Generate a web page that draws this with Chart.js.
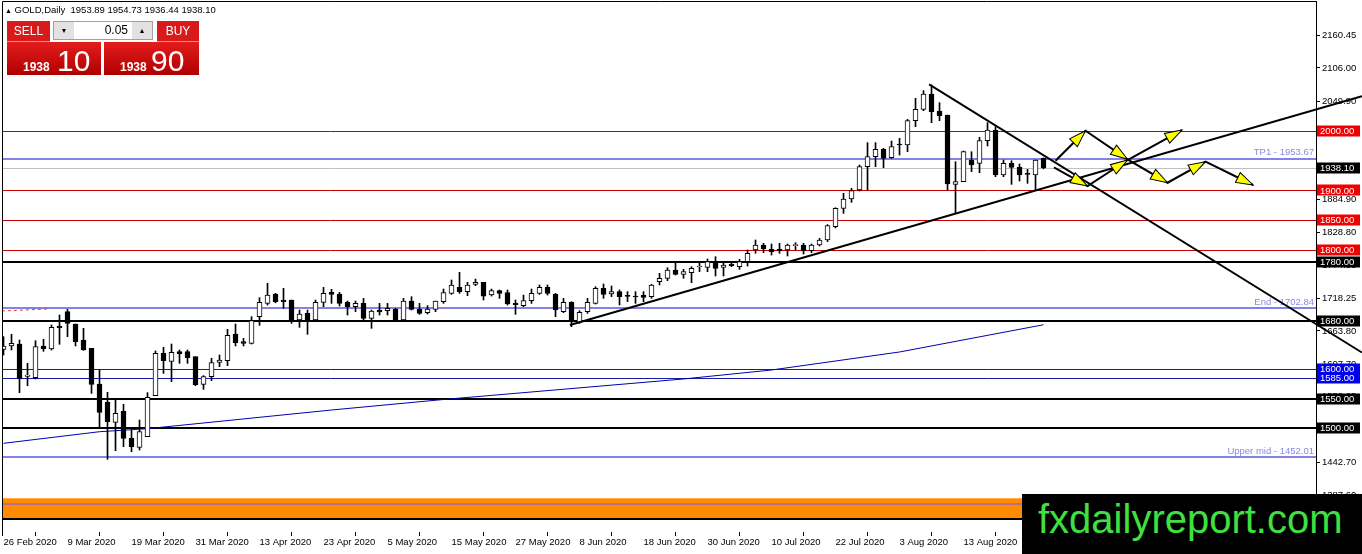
<!DOCTYPE html>
<html>
<head>
<meta charset="utf-8">
<script src="https://cdn.jsdelivr.net/npm/chart.js@4.4.1/dist/chart.umd.min.js"></script>
<style>
  html, body { margin: 0; padding: 0; background: #fff; }
  #wrap { position: relative; width: 1362px; height: 554px; overflow: hidden; font-family: "Liberation Sans", Arial, sans-serif; }
  #chart { position: absolute; left: 0; top: 0; }
  #title { position: absolute; left: 5px; top: 4px; font-size: 9.5px; line-height: 12px; color: #000; white-space: pre; }
  #title .tri { font-size: 7px; }
  .btn { position: absolute; top: 21px; height: 20px; background: #d91a1a; color: #fff; font-size: 12px; line-height: 20px; text-align: center; border-bottom: 1px solid #f08c8c; }
  #sell { left: 7px; width: 43px; }
  #buy { left: 157px; width: 42px; }
  #lot { position: absolute; left: 53px; top: 21px; width: 100px; height: 19px; border: 1px solid #a0a0a0; background: #fff; display: flex; box-sizing: border-box; }
  #lot .spin { width: 20px; background: #e2e2e2; font-size: 7px; text-align: center; line-height: 17px; color: #000; }
  #lot .val { flex: 1; text-align: right; padding-right: 4px; font-size: 12px; line-height: 17px; color: #000; }
  .px { position: absolute; top: 42px; height: 33px; background: linear-gradient(#e41c1c, #b00000); color: #fff; }
  #pxSell { left: 7px; width: 94px; }
  #pxBuy { left: 104px; width: 95px; }
  .px .sm { position: absolute; bottom: 2px; font-size: 12px; line-height: 12px; font-weight: bold; }
  .px .lg { position: absolute; bottom: -1px; font-size: 30px; line-height: 30px; }
  #wm { position: absolute; left: 1022px; top: 494px; width: 340px; height: 60px; background: #000; color: #3fe03f; font-size: 40px; line-height: 50px; padding-left: 16px; box-sizing: border-box; }
</style>
</head>
<body>
<div id="wrap">
  <canvas id="chart" width="1362" height="554"></canvas>
  <div id="title"></div>
  <div class="btn" id="sell">SELL</div>
  <div id="lot"><div class="spin">&#9660;</div><div class="val">0.05</div><div class="spin">&#9650;</div></div>
  <div class="btn" id="buy">BUY</div>
  <div class="px" id="pxSell"><span class="sm" style="left:16px">1938</span><span class="lg" style="left:50px">10</span></div>
  <div class="px" id="pxBuy"><span class="sm" style="left:16px">1938</span><span class="lg" style="left:47px">90</span></div>
  <div id="wm">fxdailyreport.com</div>
</div>
<script>
// daily candles, bar 0 = 26 Feb 2020
const opens = [1632.8,1638.4,1641.7,1587.4,1585.1,1638.4,1633.3,1672.0,1696.1,1675.4,
  1648.5,1634.4,1574.4,1544.2,1510.0,1528.4,1483.0,1467.9,1485.8,1554.8,
  1626.0,1612.6,1628.8,1628.8,1620.4,1573.9,1586.8,1610.9,1613.7,1658.5,
  1645.7,1642.8,1687.7,1710.1,1725.8,1715.7,1715.7,1682.1,1693.3,1682.1,
  1711.8,1728.6,1725.8,1711.8,1704.5,1710.1,1684.9,1698.9,1697.8,1700.6,
  1682.1,1714.0,1700.0,1694.4,1700.0,1712.9,1726.9,1737.0,1729.7,1742.1,
  1745.4,1724.1,1731.4,1728.1,1710.1,1706.2,1714.6,1726.9,1737.0,1725.2,
  1696.1,1711.8,1678.1,1696.1,1710.1,1735.4,1725.8,1729.8,1723.0,1721.9,
  1724.2,1721.4,1746.6,1752.2,1766.2,1758.9,1761.7,1771.2,1770.7,1779.1,
  1770.7,1775.7,1771.8,1780.2,1799.9,1808.3,1801.0,1801.0,1799.9,1807.2,
  1808.3,1798.7,1808.3,1816.7,1839.1,1869.9,1885.6,1900.8,1940.0,1956.8,
  1969.2,1955.1,1978.1,1976.5,2017.4,2036.5,2062.3,2033.7,2026.9,1910.3,
  1914.8,1951.2,1945.6,1983.8,2001.7,1926.0,1945.6,1938.9,1927.5,1926.0,
  1953.89];
const highs = [1654.1,1658.0,1648.5,1609.2,1647.3,1649.6,1673.7,1690.5,1700.0,1675.4,
  1668.1,1634.4,1598.0,1560.4,1550.3,1540.2,1497.1,1513.9,1559.9,1630.0,
  1636.1,1641.7,1631.6,1631.6,1620.4,1588.5,1617.6,1623.2,1666.4,1675.4,
  1651.3,1687.7,1719.7,1743.8,1727.0,1735.4,1715.7,1698.9,1698.9,1715.7,
  1737.0,1733.7,1728.6,1714.0,1714.0,1718.5,1698.9,1710.1,1710.1,1701.7,
  1718.5,1721.3,1710.1,1706.2,1714.0,1734.2,1749.4,1762.3,1745.4,1751.0,
  1745.4,1734.2,1732.5,1732.5,1715.7,1724.1,1734.2,1741.0,1741.0,1726.9,
  1718.5,1712.9,1697.8,1718.5,1738.1,1742.7,1739.3,1732.6,1729.8,1729.8,
  1729.8,1742.1,1760.6,1770.1,1778.6,1767.3,1771.8,1777.4,1784.7,1788.6,
  1778.6,1777.4,1784.2,1799.9,1816.7,1811.1,1810.0,1811.1,1810.0,1812.2,
  1811.1,1810.0,1819.5,1842.5,1871.0,1895.2,1903.6,1942.8,1980.4,1980.4,
  1970.9,1983.2,1987.7,2019.6,2055.0,2067.9,2077.4,2047.7,2026.9,1948.4,
  1966.4,1965.2,1989.4,2014.0,2007.3,1951.2,1950.1,1944.5,1935.5,1951.2,
  1954.73];
const lows = [1623.2,1631.6,1559.9,1571.6,1582.9,1629.4,1631.6,1641.2,1654.1,1638.4,
  1631.1,1558.7,1499.9,1447.7,1462.3,1469.0,1460.6,1463.4,1485.8,1554.8,
  1592.4,1578.4,1609.2,1609.2,1571.6,1565.5,1580.0,1603.6,1605.3,1638.4,
  1638.4,1641.7,1673.1,1707.3,1711.0,1701.7,1676.5,1669.8,1658.0,1681.0,
  1704.5,1710.1,1705.6,1690.5,1696.1,1679.3,1668.1,1690.5,1690.5,1679.3,
  1680.4,1698.9,1691.6,1692.2,1696.1,1710.1,1725.2,1726.9,1723.0,1739.8,
  1715.7,1722.4,1718.5,1707.3,1691.6,1704.5,1710.1,1725.2,1724.1,1687.7,
  1694.4,1670.9,1676.5,1693.3,1709.0,1718.6,1721.4,1707.3,1713.0,1710.1,
  1713.0,1718.6,1741.0,1748.3,1757.8,1752.2,1744.9,1763.4,1763.4,1756.1,
  1756.1,1771.8,1767.3,1772.9,1794.3,1795.4,1791.4,1794.3,1789.8,1799.9,
  1793.1,1795.4,1806.6,1814.0,1837.0,1861.5,1880.0,1899.1,1900.8,1940.0,
  1938.3,1954.0,1959.6,1965.2,2007.3,2034.2,2014.0,2017.4,1900.8,1862.6,
  1914.8,1931.6,1929.9,1974.8,1923.2,1923.2,1910.3,1915.9,1912.0,1900.8,
  1936.44];
const closes = [1638.4,1642.8,1582.9,1589.6,1637.2,1633.9,1669.8,1669.2,1676.5,1645.7,
  1631.6,1573.9,1526.8,1511.1,1525.1,1483.0,1469.0,1494.3,1552.0,1626.0,
  1613.7,1627.7,1625.5,1618.7,1573.3,1586.8,1610.3,1614.8,1656.3,1644.0,
  1642.8,1681.0,1711.8,1724.2,1712.9,1712.9,1679.3,1692.2,1682.1,1711.8,
  1726.9,1725.2,1710.1,1704.5,1710.1,1684.9,1697.2,1695.5,1701.7,1682.1,
  1714.0,1700.0,1693.3,1700.6,1714.0,1728.1,1741.0,1729.7,1741.0,1745.4,
  1722.4,1731.4,1726.9,1709.0,1707.9,1714.6,1726.9,1737.0,1726.9,1698.9,
  1711.8,1679.3,1695.0,1711.8,1735.3,1725.3,1729.8,1721.4,1721.9,1720.8,
  1720.2,1741.0,1752.2,1766.2,1758.9,1763.4,1769.0,1772.4,1780.2,1769.0,
  1774.6,1773.5,1780.2,1794.3,1808.3,1801.5,1797.1,1798.7,1808.3,1808.0,
  1798.7,1808.3,1816.7,1840.8,1869.9,1885.6,1899.6,1940.0,1956.8,1969.2,
  1954.0,1973.7,1976.5,2017.4,2036.5,2062.3,2032.5,2025.8,1910.9,1914.8,
  1965.2,1942.8,1983.8,2001.7,1926.0,1945.6,1938.9,1926.0,1927.1,1951.2,
  1938.10];

const dateBars = [0, 8, 16, 24, 32, 40, 48, 56, 64, 72, 80, 88, 96, 104, 112, 120, 128];
const dateLabels = ['26 Feb 2020', '9 Mar 2020', '19 Mar 2020', '31 Mar 2020', '13 Apr 2020',
  '23 Apr 2020', '5 May 2020', '15 May 2020', '27 May 2020', '8 Jun 2020', '18 Jun 2020',
  '30 Jun 2020', '10 Jul 2020', '22 Jul 2020', '3 Aug 2020', '13 Aug 2020', '25 Aug 2020'];
const priceTicks = [2160.45, 2106.00, 2049.90, 1995.75, 1940.35, 1884.90, 1828.80, 1774.55,
  1718.25, 1663.80, 1607.70, 1553.25, 1497.15, 1442.70, 1387.60];

// horizontal levels
const redLevels = [2000, 1900, 1850, 1800];
const blackLevels = [1780, 1680, 1550, 1500];
const blueLevels = [1600, 1585];
const fiboNames = ['TP1', 'End', 'Upper mid'];
const fiboLevels = [1953.67, 1702.84, 1452.01];
const zoneTop = 1382.2, zoneBottom = 1347.9, zoneMid = 1372.6, zoneBase = 1347.4;

// moving average, read at a few bars
const maBars = [0, 12, 18, 41, 55, 85, 96, 112, 130];
const maValues = [1474.7, 1494.2, 1499.3, 1530.7, 1548.4, 1582.9, 1598.0, 1628.3, 1674.1];

// trend lines and projections
const supportBars = [70.8, 169.8];
const supportPrices = [1673.7, 2058.7];
const resistBars = [115.7, 169.8];
const resistPrices = [2078.5, 1627.4];
const dashBars = [-0.2, 5.6];
const dashPrices = [1697.3, 1700.7];
const path1Bars = [131.5, 135.25, 140.5, 145.5, 150.25, 156.2];
const path1Prices = [1950.0, 2000.5, 1952.4, 1913.0, 1948.4, 1909.2];
const path2Bars = [131.3, 135.5, 140.5, 147.3];
const path2Prices = [1938.9, 1907.5, 1951.2, 2001.7];

const last = closes.length - 1;
document.getElementById('title').innerHTML = '<span class="tri">&#9650;</span> GOLD,Daily  ' +
  [opens[last], highs[last], lows[last], closes[last]].map(v => v.toFixed(2)).join(' ');

const pts = (xs, ys) => xs.map((x, k) => ({x: x, y: ys[k]}));
const bars = closes.map((_, i) => i);

const font = '9.5px "Liberation Sans", Arial, sans-serif';
Chart.defaults.font.family = '"Liberation Sans", Arial, sans-serif';
Chart.defaults.font.size = 9.5;
Chart.defaults.color = '#000';

// scales must not push the plot area in (the frame starts at the very top)
const noPad = s => { s.paddingTop = 0; s.paddingBottom = 0; s.paddingLeft = 0; s.paddingRight = 0; };

const levelsPlugin = {
  id: 'levels',
  beforeDatasetsDraw(chart) {
    const {ctx, chartArea: a, scales: {y}} = chart;
    const hline = (v, color, w) => {
      let py = Math.round(y.getPixelForValue(v));
      if (w % 2) py += 0.5;
      ctx.beginPath();
      ctx.moveTo(a.left, py);
      ctx.lineTo(a.right, py);
      ctx.strokeStyle = color;
      ctx.lineWidth = w;
      ctx.stroke();
    };
    ctx.save();
    const zt = y.getPixelForValue(zoneTop), zb = y.getPixelForValue(zoneBottom);
    ctx.fillStyle = '#ff8c00';
    ctx.fillRect(a.left, zt, a.right - a.left, zb - zt);
    hline(zoneMid, '#b8708a', 2);
    hline(zoneBase, '#000', 2);
    hline(closes[last], '#c0c0c0', 1);
    redLevels.forEach(v => hline(v, '#c80000', 1));
    blueLevels.forEach(v => hline(v, '#1a1aa8', 1));
    blackLevels.forEach(v => hline(v, '#000', 2));
    fiboLevels.forEach(v => hline(v, '#8383e6', 2));
    ctx.font = font;
    ctx.fillStyle = '#8a8ae0';
    ctx.textAlign = 'right';
    ctx.textBaseline = 'bottom';
    fiboLevels.forEach((v, k) => {
      ctx.fillText(fiboNames[k] + ' - ' + v.toFixed(2), a.right - 2, y.getPixelForValue(v) - 1);
    });
    ctx.restore();
  },
  afterDatasetsDraw(chart) {
    const {ctx, chartArea: a} = chart;
    ctx.save();
    // arrow heads on projection paths
    chart.data.datasets.forEach((ds, idx) => {
      if (!ds.arrows) return;
      const p = chart.getDatasetMeta(idx).data;
      for (let k = 1; k < p.length; k++) {
        const ang = Math.atan2(p[k].y - p[k - 1].y, p[k].x - p[k - 1].x);
        ctx.save();
        ctx.translate(p[k].x, p[k].y);
        ctx.rotate(ang);
        ctx.beginPath();
        ctx.moveTo(0, 0);
        ctx.lineTo(-17, -5.5);
        ctx.lineTo(-17, 5.5);
        ctx.closePath();
        ctx.fillStyle = '#ffff00';
        ctx.fill();
        ctx.lineWidth = 1;
        ctx.strokeStyle = '#000';
        ctx.stroke();
        ctx.restore();
      }
    });
    // frame
    ctx.strokeStyle = '#000';
    ctx.lineWidth = 1;
    ctx.beginPath();
    ctx.moveTo(a.left + 0.5, 536);
    ctx.lineTo(a.left + 0.5, a.top + 0.5);
    ctx.lineTo(a.right, a.top + 0.5);
    ctx.stroke();
    ctx.restore();
  },
  afterDraw(chart) {
    const {ctx, chartArea: a, scales: {y}} = chart;
    const tag = (v, bg) => {
      const py = y.getPixelForValue(v);
      ctx.fillStyle = bg;
      ctx.fillRect(a.right + 1, Math.round(py) - 5.5, 43, 11);
      ctx.fillStyle = '#fff';
      ctx.fillText(v.toFixed(2), a.right + 4, py + 0.5);
    };
    ctx.save();
    ctx.font = font;
    ctx.textAlign = 'left';
    ctx.textBaseline = 'middle';
    redLevels.forEach(v => tag(v, '#f00000'));
    blackLevels.forEach(v => tag(v, '#000'));
    blueLevels.forEach(v => tag(v, '#0000f0'));
    tag(closes[last], '#000');
    ctx.restore();
  }
};

new Chart(document.getElementById('chart'), {
  type: 'bar',
  data: {
    datasets: [
      {type: 'line', data: pts(maBars, maValues), borderColor: '#0000b0', borderWidth: 1,
        pointRadius: 0, order: 10, clip: 0},
      {type: 'line', data: pts(dashBars, dashPrices), borderColor: '#e03838', borderWidth: 1,
        borderDash: [3, 3], pointRadius: 0, order: 9, clip: 0},
      {type: 'bar', data: bars.map(i => ({x: i, y: [lows[i], highs[i]]})), backgroundColor: '#000',
        barThickness: 1, grouped: false, order: 6, clip: 0},
      {type: 'bar', data: bars.map(i => ({x: i, y: [opens[i], closes[i]]})),
        backgroundColor: c => closes[c.dataIndex] >= opens[c.dataIndex] ? '#fff' : '#000',
        borderColor: '#000', borderWidth: 1, borderSkipped: false, barThickness: 5,
        minBarLength: 1, grouped: false, order: 5, clip: 0},
      {type: 'line', data: pts(supportBars, supportPrices), borderColor: '#000', borderWidth: 2,
        pointRadius: 0, clip: false, order: 3},
      {type: 'line', data: pts(resistBars, resistPrices), borderColor: '#000', borderWidth: 2,
        pointRadius: 0, clip: false, order: 3},
      {type: 'line', data: pts(path1Bars, path1Prices), borderColor: '#000', borderWidth: 2,
        pointRadius: 0, clip: false, order: 1, arrows: true},
      {type: 'line', data: pts(path2Bars, path2Prices), borderColor: '#000', borderWidth: 2,
        pointRadius: 0, clip: false, order: 1, arrows: true}
    ]
  },
  options: {
    responsive: false,
    devicePixelRatio: 1,
    animation: false,
    events: [],
    layout: {autoPadding: false, padding: {top: 1, left: 2, right: 0, bottom: 0}},
    plugins: {legend: {display: false}, tooltip: {enabled: false}},
    scales: {
      x: {
        type: 'linear',
        min: -0.1875,
        max: 164.06,
        offset: false,
        border: {display: false},
        grid: {drawOnChartArea: false, drawTicks: true, tickLength: 4, color: '#000'},
        ticks: {autoSkip: false, maxRotation: 0, align: 'start', padding: 1,
          callback: v => dateLabels[dateBars.indexOf(v)] || ''},
        afterBuildTicks: s => { s.ticks = dateBars.map(v => ({value: v})); },
        afterFit: s => { s.height = 22; noPad(s); }
      },
      y: {
        type: 'linear',
        position: 'right',
        min: 1325.5,
        max: 2218.7,
        border: {display: true, color: '#000', width: 1},
        grid: {drawOnChartArea: false, drawTicks: true, tickLength: 4, color: '#000'},
        ticks: {padding: 2, callback: v => Number(v).toFixed(2)},
        afterBuildTicks: s => { s.ticks = priceTicks.map(v => ({value: v})); },
        afterFit: s => { s.width = 46; noPad(s); }
      }
    }
  },
  plugins: [levelsPlugin]
});
</script>
</body>
</html>
